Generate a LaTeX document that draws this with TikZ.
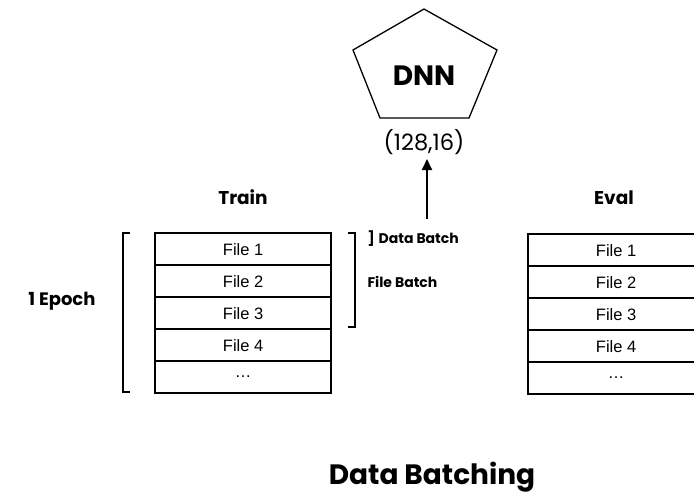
\documentclass[tikz,border=0pt]{standalone}
\usepackage{fontspec}
\setmainfont{Liberation Sans}
\newfontfamily\futfont{Poppins}
\usetikzlibrary{arrows.meta}
\begin{document}
\begin{tikzpicture}[x=1pt,y=-1pt,
  filebox/.style={draw,line width=2.2pt,minimum width=176pt,minimum height=32pt,inner sep=0pt,font=\fontsize{16.5}{16.5}\selectfont,anchor=north west},
  heading/.style={font=\futfont\bfseries\fontsize{18.5}{18.5}\selectfont},
  small/.style={font=\futfont\bfseries\fontsize{14}{14}\selectfont,anchor=west},
  brk/.style={line width=1.1pt}]
\useasboundingbox (0,0) rectangle (694,498);
\clip (0,0) rectangle (694,498);
% DNN pentagon
\draw[line width=1.3pt,line join=miter] (424,9) -- (497,50) -- (469,118) -- (380,118) -- (353,50) -- cycle;
\node[font=\futfont\bfseries\fontsize{28}{28}\selectfont] (dnn) at (424,76) {DNN};
\node[font=\futfont\fontsize{22.5}{22.5}\selectfont] (shape) at (424,142) {(128,16)};
\coordinate (arrfoot) at (427,219);
\draw[line width=1.8pt,-{Triangle[length=11pt,width=10pt]}] (arrfoot) -- (427,159);
% Train
\node[heading] (train) at (243,197) {Train};
\foreach \i/\t in {0/File 1,1/File 2,2/File 3,3/File 4,4/\ldots}{
  \node[filebox] (tr\i) at (154,232+32*\i) {\t};
}
% Eval
\node[heading] (eval) at (614,198) {Eval};
\foreach \i/\t in {0/File 1,1/File 2,2/File 3,3/File 4,4/\ldots}{
  \node[filebox] (ev\i) at (527,233+32*\i) {\t};
}
% brackets
\draw[brk] (130,233) -- (123,233) -- (123,392) -- (130,392);
\draw[brk] (348,233) -- (355,233) -- (355,327) -- (348,327);
\node[font=\futfont\bfseries\fontsize{18}{18}\selectfont] (epoch) at (62,301) {1 Epoch};
\node[small] (db) at (364,239) {]\hspace{4pt}Data Batch};
\node[small] (fb) at (364,282) {File Batch};
% title
\node[font=\futfont\bfseries\fontsize{28}{28}\selectfont] (title) at (432,477) {Data Batching};
\end{tikzpicture}
\end{document}
